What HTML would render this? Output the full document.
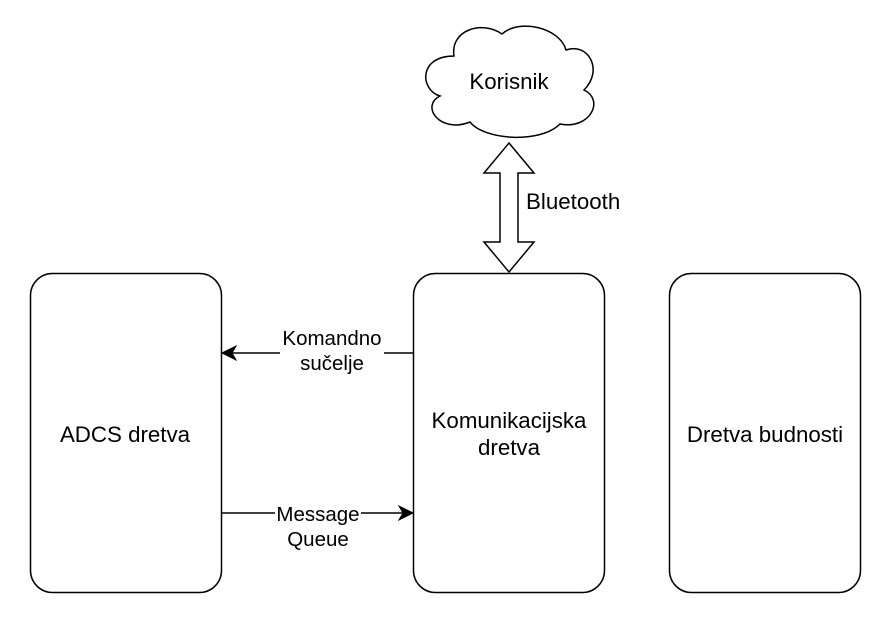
<!DOCTYPE html>
<html><head><style>body{margin:0;background:#fff}</style></head><body>
<svg width="892" height="624" xmlns="http://www.w3.org/2000/svg" font-family="Liberation Sans, Arial, sans-serif" font-size="22.3">
<rect x="30.5" y="273.5" width="191" height="319" rx="22" fill="#fff" stroke="#000" stroke-width="1.5"/>
<rect x="413.5" y="273.5" width="191" height="319" rx="22" fill="#fff" stroke="#000" stroke-width="1.5"/>
<rect x="669.5" y="273.5" width="191" height="319" rx="22" fill="#fff" stroke="#000" stroke-width="1.5"/>
<text x="125" y="442" text-anchor="middle">ADCS dretva</text>
<text x="509" y="428" text-anchor="middle">Komunikacijska</text>
<text x="509" y="455" text-anchor="middle">dretva</text>
<text x="765" y="442" text-anchor="middle">Dretva budnosti</text>
<path d="M454,56 C418,56 420,90 440,96 C420,106 440,134 470,122 C484,140 540,144 560,124 C590,130 605,100 584,90 C604,70 588,42 566,50 C560,28 520,18 502,34 C482,20 450,30 454,56 Z" fill="#fff" stroke="#000" stroke-width="1.5"/>
<text x="509" y="89" text-anchor="middle">Korisnik</text>
<path d="M509,143 L534,173 L518,173 L518,242 L534,242 L509,272 L484,242 L500,242 L500,173 L484,173 Z" fill="#fff" stroke="#000" stroke-width="1.5"/>
<text x="526" y="209">Bluetooth</text>
<line x1="413" y1="353" x2="232" y2="353" stroke="#000" stroke-width="1.5"/>
<rect x="280" y="338" width="104" height="34" fill="#fff"/>
<path d="M222,353 L236,346 L232,353 L236,360 Z" fill="#000" stroke="#000"/>
<g font-size="20.5">
<text x="332" y="345" text-anchor="middle">Komandno</text>
<text x="332" y="370" text-anchor="middle">sučelje</text>
</g>
<line x1="222" y1="513" x2="403" y2="513" stroke="#000" stroke-width="1.5"/>
<rect x="275" y="504" width="86" height="44" fill="#fff"/>
<path d="M413,513 L399,506 L403,513 L399,520 Z" fill="#000" stroke="#000"/>
<g font-size="20.5">
<text x="318" y="521" text-anchor="middle">Message</text>
<text x="318" y="546" text-anchor="middle">Queue</text>
</g>
</svg>
</body></html>
